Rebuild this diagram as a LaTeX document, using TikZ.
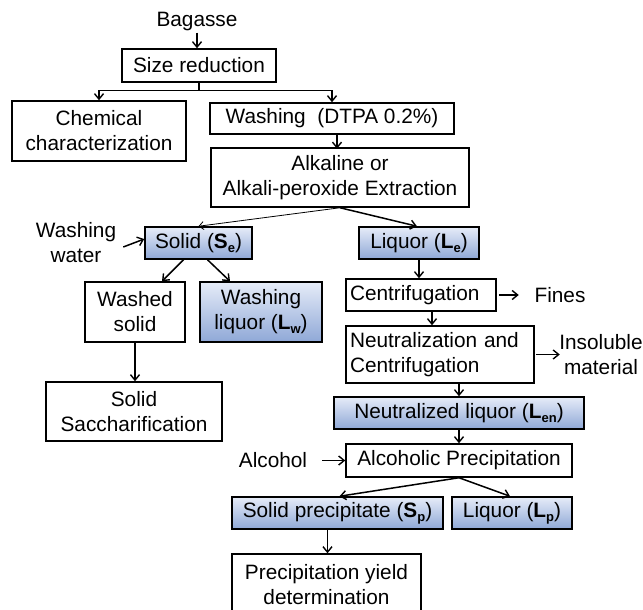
\documentclass[tikz,border=0pt]{standalone}
\usepackage{fontspec}
\setmainfont{Liberation Sans}
\usetikzlibrary{arrows.meta,shadows}
\definecolor{bluetop}{HTML}{E6ECF8}
\definecolor{bluebot}{HTML}{8FA8D7}
\newcommand{\sbf}[2]{\textbf{#1}\raisebox{-0.35ex}{\fontsize{13}{13}\selectfont\textbf{#2}}}
\begin{document}
\begin{tikzpicture}[x=1pt,y=-1pt,
  every node/.style={font=\fontsize{20.8}{25}\selectfont},
  box/.style={draw=black,line width=1.5pt,inner sep=0pt,align=center,
    minimum width=#1},
  bluebox/.style={box=#1,top color=bluetop,bottom color=bluebot,
    drop shadow={shadow xshift=1.2pt,shadow yshift=-1.2pt,opacity=0.45,fill=black!70}},
  lbl/.style={inner sep=1pt,align=center},
  arr/.style={line width=1.5pt,-{Straight Barb[length=5.5pt,width=9pt,line width=1.4pt]}},
  thinarr/.style={line width=0.8pt,-{Straight Barb[length=4.5pt,width=8pt,line width=0.8pt]}},
  ln/.style={line width=1.5pt}]
\useasboundingbox (0,0) rectangle (643,610);
\clip (0,0) rectangle (643,610);

\node[lbl] (bag) at (197,22) {Bagasse};
\node[box=154pt,minimum height=33pt] (size) at (199,65.5) {Size reduction};
\node[box=174pt,minimum height=60pt] (chem) at (99,131) {Chemical\\characterization};
\node[box=244pt,minimum height=31pt] (wash) at (332,118.5) {Washing\ \ (DTPA 0.2\%)};
\node[box=258pt,minimum height=59pt] (alk) at (340,177.5) {Alkaline or\\Alkali-peroxide Extraction};
\node[bluebox=107pt,minimum height=32pt] (solid) at (198.5,243) {Solid (\sbf{S}{e})};
\node[lbl] (ww) at (76,243) {Washing\\water};
\node[bluebox=120pt,minimum height=32pt] (liq) at (419,243) {Liquor (\sbf{L}{e})};
\node[box=100pt,minimum height=60pt] (washed) at (135,312) {Washed\\solid};
\node[bluebox=122pt,minimum height=60pt] (wliq) at (261,312) {Washing\\liquor (\sbf{L}{w})};
\node[box=150pt,minimum height=32pt,align=left,text width=142pt] (centr) at (421,295) {Centrifugation};
\node[lbl] (fines) at (560,295) {Fines};
\node[lbl,inner sep=0pt] (insol) at (601,354.5) {Insoluble\\material};
\node[box=188pt,minimum height=57pt,align=left,text width=180pt] (neut) at (440,354.5) {Neutralization and\\Centrifugation};
\node[box=176pt,minimum height=59pt] (sacch) at (134,411.5) {Solid\\Saccharification};
\node[bluebox=250pt,minimum height=32pt] (nliq) at (459,413) {Neutralized liquor (\sbf{L}{en})};
\node[box=226pt,minimum height=33pt] (alc) at (459,460.5) {Alcoholic Precipitation};
\node[lbl] (alcohol) at (273,460.5) {Alcohol};
\node[bluebox=211pt,minimum height=32pt] (sprec) at (337.5,513) {Solid precipitate (\sbf{S}{p})};
\node[bluebox=120pt,minimum height=32pt] (lp) at (512,513) {Liquor (\sbf{L}{p})};
\node[box=189pt,minimum height=62pt] (prec) at (326.5,585) {Precipitation yield\\determination};

\draw[arr] (bag.south) -- (bag.south |- size.north);
\draw[ln] (size.south) -- ++(0,8) coordinate (br);
\draw[arr] (br) -| (chem.north);
\draw[arr] (br) -| (wash.north);
\draw[arr] (alk.north |- wash.south) ++(-3,0) -- ++(0,14);
\draw[thinarr] (alk.south) -- (solid.north);
\draw[arr] (alk.south) -- ([xshift=-2pt]liq.north);
\draw[arr] (ww.east) ++(6,4) -- ([yshift=4pt]solid.west);
\draw[arr] ([xshift=-15pt]solid.south) -- ([xshift=27pt]washed.north);
\draw[arr] ([xshift=9pt]solid.south) -- ([xshift=-31pt]wliq.north);
\draw[arr] (liq.south) -- (liq.south |- centr.north);
\draw[arr] (centr.east) ++(2,0) -- ([xshift=22pt]centr.east);
\draw[arr] ([xshift=11pt]centr.south) -- ([xshift=11pt]centr.south |- neut.north);
\draw[arr] (neut.east) ++(1,0) -- ([xshift=25pt]neut.east);
\draw[arr] (washed.south) -- (washed.south |- sacch.north);
\draw[arr] (nliq.north |- neut.south) -- (nliq.north);
\draw[arr] (nliq.south) -- (nliq.south |- alc.north);
\draw[arr] (alcohol.east) ++(14,0) -- (alc.west);
\draw[arr] (alc.south) -- ([xshift=2pt]sprec.north);
\draw[arr] (alc.south) -- ([xshift=-2pt]lp.north);
\draw[arr] ([xshift=-10pt]sprec.south) -- ([xshift=-10pt]sprec.south |- prec.north);
\end{tikzpicture}
\end{document}
